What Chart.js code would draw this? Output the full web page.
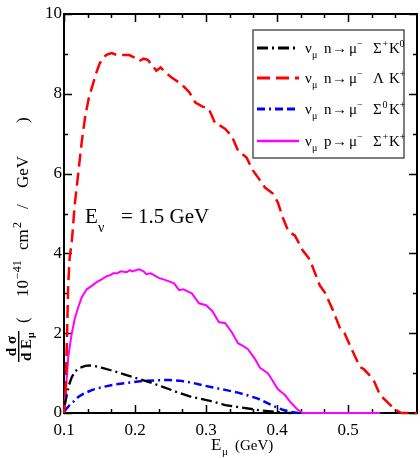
<!DOCTYPE html>
<html>
<head>
<meta charset="utf-8">
<script src="https://cdn.jsdelivr.net/npm/chart.js@4.4.1/dist/chart.umd.min.js"></script>
<style>
  html, body { margin: 0; padding: 0; background: #fff; }
  canvas { display: block; }
</style>
</head>
<body>
<canvas id="c" width="420" height="458"></canvas>
<script>
// Axis ticks
const xTicks = [0.1, 0.2, 0.3, 0.4, 0.5];
const yTicks = [0, 2, 4, 6, 8, 10];

// nu_mu n -> mu- Sigma+ K0
const sigmaPlusK0E = [0.101, 0.104, 0.107, 0.111, 0.116, 0.122, 0.13, 0.136, 0.145, 0.154, 0.17, 0.188, 0.206, 0.224, 0.24, 0.258, 0.28, 0.304, 0.327, 0.345, 0.364, 0.38, 0.397, 0.41, 0.42];
const sigmaPlusK0 = [0.2, 0.45, 0.7, 0.9, 1.05, 1.13, 1.18, 1.19, 1.17, 1.13, 1.05, 0.95, 0.85, 0.75, 0.65, 0.53, 0.4, 0.31, 0.2, 0.15, 0.1, 0.06, 0.03, 0.01, 0.0];

// nu_mu n -> mu- Lambda K+
const lambdaKE = [0.1, 0.102, 0.104, 0.106, 0.108, 0.111, 0.115, 0.12, 0.125, 0.13, 0.135, 0.14, 0.145, 0.15, 0.155, 0.16, 0.167, 0.175, 0.185, 0.192, 0.2, 0.206, 0.212, 0.218, 0.224, 0.23, 0.236, 0.242, 0.252, 0.265, 0.276, 0.285, 0.295, 0.304, 0.313, 0.32, 0.327, 0.336, 0.345, 0.357, 0.366, 0.376, 0.383, 0.394, 0.401, 0.408, 0.416, 0.425, 0.436, 0.446, 0.46, 0.468, 0.478, 0.488, 0.495, 0.505, 0.517, 0.522, 0.53, 0.537, 0.545, 0.555, 0.565, 0.575, 0.597];
const lambdaK = [0.0, 0.4, 1.75, 3.25, 3.9, 4.3, 5.2, 6.0, 6.8, 7.45, 7.9, 8.2, 8.5, 8.75, 8.9, 8.98, 9.02, 8.97, 8.97, 8.97, 8.9, 8.82, 8.88, 8.85, 8.72, 8.58, 8.66, 8.55, 8.4, 8.25, 8.05, 7.78, 7.68, 7.62, 7.25, 7.2, 7.12, 6.95, 6.58, 6.4, 6.08, 5.83, 5.65, 5.5, 5.28, 4.9, 4.55, 4.45, 4.08, 3.85, 3.2, 3.0, 2.6, 2.15, 2.0, 1.6, 1.15, 1.1, 0.95, 0.78, 0.45, 0.28, 0.1, 0.0, 0.0];

// nu_mu n -> mu- Sigma0 K+
const sigmaZeroKE = [0.101, 0.104, 0.108, 0.113, 0.12, 0.127, 0.14, 0.154, 0.17, 0.188, 0.21, 0.23, 0.248, 0.266, 0.28, 0.294, 0.31, 0.327, 0.345, 0.359, 0.373, 0.385, 0.397, 0.408, 0.419, 0.43];
const sigmaZeroK = [0.05, 0.12, 0.2, 0.28, 0.4, 0.48, 0.58, 0.65, 0.71, 0.75, 0.8, 0.82, 0.83, 0.8, 0.76, 0.7, 0.64, 0.58, 0.51, 0.44, 0.36, 0.26, 0.16, 0.08, 0.03, 0.0];

// nu_mu p -> mu- Sigma+ K+
const protonKE = [0.101, 0.102, 0.104, 0.106, 0.108, 0.111, 0.115, 0.12, 0.125, 0.132, 0.14, 0.146, 0.153, 0.16, 0.165, 0.169, 0.175, 0.18, 0.188, 0.193, 0.196, 0.2, 0.206, 0.212, 0.216, 0.222, 0.228, 0.234, 0.24, 0.248, 0.255, 0.262, 0.268, 0.274, 0.28, 0.29, 0.3, 0.309, 0.318, 0.327, 0.336, 0.345, 0.352, 0.359, 0.369, 0.376, 0.387, 0.394, 0.401, 0.411, 0.42, 0.428, 0.436, 0.545];
const protonK = [0.3, 0.45, 0.9, 1.4, 1.65, 2.0, 2.35, 2.65, 2.9, 3.1, 3.2, 3.28, 3.35, 3.43, 3.45, 3.5, 3.5, 3.55, 3.53, 3.58, 3.55, 3.57, 3.6, 3.55, 3.48, 3.5, 3.44, 3.38, 3.35, 3.3, 3.25, 3.08, 3.1, 3.05, 3.0, 2.75, 2.7, 2.55, 2.28, 2.25, 2.03, 1.75, 1.68, 1.6, 1.35, 1.13, 1.0, 0.8, 0.6, 0.45, 0.25, 0.1, 0.0, 0.0];

const seriesLabels = [
  'ν_μ n → μ⁻ Σ⁺ K⁰',
  'ν_μ n → μ⁻ Λ K⁺',
  'ν_μ n → μ⁻ Σ⁰ K⁺',
  'ν_μ p → μ⁻ Σ⁺ K⁺'
];

const SERIF = '"Liberation Serif", "Times New Roman", serif';

function pts(xs, ys) { return xs.map((x, i) => ({ x: x, y: ys[i] })); }

const styles = [
  { color: '#000000', dash: [11, 4, 2, 4], width: 2.3 },
  { color: '#ff0000', dash: [13, 6], width: 2.5 },
  { color: '#0000ff', dash: [8, 4, 2, 4, 8, 4], width: 2.5 },
  { color: '#ff00ff', dash: [], width: 2 }
];
const seriesData = [
  pts(sigmaPlusK0E, sigmaPlusK0),
  pts(lambdaKE, lambdaK),
  pts(sigmaZeroKE, sigmaZeroK),
  pts(protonKE, protonK)
];

// Text pieces: [text, x, kind, shift?] where kind is n (normal), sub or sup
function drawPieces(ctx, pieces, baseY, size, weight) {
  const w = weight || 'normal';
  for (const [t, x, kind, shift] of pieces) {
    let fs = size, dy = 0;
    if (kind === 'sub') { fs = Math.round(size * 0.68); dy = size * 0.3; }
    if (kind === 'sup') { fs = Math.round(size * 0.68); dy = -size * 0.42; }
    if (shift !== undefined) dy = shift;
    ctx.font = w + ' ' + fs + 'px ' + SERIF;
    ctx.fillText(t, x, baseY + dy);
  }
}

const frameTicks = {
  id: 'frameTicks',
  beforeDatasetsDraw(chart) {
    const { ctx, chartArea: a, scales: { x, y } } = chart;
    ctx.save();
    ctx.strokeStyle = '#000';
    ctx.lineWidth = 2;
    ctx.strokeRect(a.left, a.top, a.right - a.left, a.bottom - a.top);
    ctx.lineWidth = 1.5;
    ctx.beginPath();
    // x: major every 0.1, two minor ticks between
    for (let i = 0; ; i++) {
      const v = 0.1 + i * 0.1 / 3;
      if (v > x.max + 1e-9) break;
      const px = Math.round(x.getPixelForValue(v)) + 0.5;
      const len = (i % 3 === 0) ? 8 : 4;
      ctx.moveTo(px, a.bottom); ctx.lineTo(px, a.bottom - len);
      ctx.moveTo(px, a.top); ctx.lineTo(px, a.top + len);
    }
    // y: major every 2, one minor between
    for (let v = 0; v <= 10; v++) {
      const py = Math.round(y.getPixelForValue(v)) + 0.5;
      const len = (v % 2 === 0) ? 8 : 4;
      ctx.moveTo(a.left, py); ctx.lineTo(a.left + len, py);
      ctx.moveTo(a.right, py); ctx.lineTo(a.right - len, py);
    }
    ctx.stroke();
    ctx.restore();
  },
  afterDraw(chart) {
    const ctx = chart.ctx;
    ctx.save();
    ctx.fillStyle = '#000';
    ctx.textAlign = 'left';
    ctx.textBaseline = 'alphabetic';

    // Legend box
    const L = { left: 253, top: 30, right: 404, bottom: 158 };
    ctx.fillStyle = '#fff';
    ctx.fillRect(L.left, L.top, L.right - L.left, L.bottom - L.top);
    ctx.strokeStyle = '#555';
    ctx.lineWidth = 1.5;
    ctx.strokeRect(L.left, L.top, L.right - L.left, L.bottom - L.top);
    const rowsY = [48, 78, 109, 141];
    const target = ['n', 'n', 'n', 'p'];
    const baryon = [['Σ', '+'], ['Λ', ''], ['Σ', '0'], ['Σ', '+']];
    const kaon = ['0', '+', '+', '+'];
    for (let i = 0; i < 4; i++) {
      const st = styles[i];
      const ry = rowsY[i];
      ctx.strokeStyle = st.color;
      ctx.lineWidth = st.width + 0.5;
      ctx.setLineDash(st.dash);
      ctx.beginPath();
      ctx.moveTo(257, ry); ctx.lineTo(299, ry);
      ctx.stroke();
      ctx.setLineDash([]);
      ctx.fillStyle = '#000';
      const pieces = [
        ['ν', 305, 'n'], ['μ', 312, 'sub'],
        [target[i], 324, 'n'], ['→', 332, 'n'],
        ['μ', 349, 'n'], ['−', 357, 'sup'],
        [baryon[i][0], 373, 'n']
      ];
      if (baryon[i][1]) pieces.push([baryon[i][1], 382.5, 'sup']);
      pieces.push(['K', 389, 'n'], [kaon[i], 399.5, 'sup']);
      drawPieces(ctx, pieces, ry + 5, 15);
    }

    // In-plot annotation
    ctx.fillStyle = '#000';
    drawPieces(ctx, [['E', 85, 'n'], ['ν', 98, 'sub', 9], ['= 1.5 GeV', 121, 'n']], 223, 21);

    // x-axis title
    ctx.font = '17px ' + SERIF;
    ctx.fillText('E', 211, 450);
    ctx.font = '11px ' + SERIF;
    ctx.fillText('μ', 222, 455);
    ctx.font = '15px ' + SERIF;
    ctx.fillText('(GeV)', 235, 450);

    // y-axis title, rotated; local (u, v) maps to screen (v, -u)
    ctx.rotate(-Math.PI / 2);
    ctx.font = 'bold 15px ' + SERIF;
    ctx.textAlign = 'center';
    ctx.fillText('d σ', -346, 16);
    ctx.fillRect(-362, 18, 31, 1.4);
    ctx.textAlign = 'left';
    ctx.fillText('d E', -361, 31);
    ctx.font = 'bold 10px ' + SERIF;
    ctx.fillText('μ', -338, 34);
    drawPieces(ctx, [
      ['(', -323, 'n'], ['10', -297, 'n'], ['−41', -279, 'sup'],
      ['cm', -250, 'n'], ['2', -228, 'sup'], ['/', -209, 'n'],
      ['GeV', -188, 'n'], [')', -123, 'n']
    ], 28, 17);
    ctx.restore();
  }
};

new Chart(document.getElementById('c'), {
  type: 'line',
  data: {
    datasets: seriesData.map((d, i) => ({
      label: seriesLabels[i],
      data: d,
      borderColor: styles[i].color,
      borderWidth: styles[i].width,
      borderDash: styles[i].dash,
      pointRadius: 0,
      tension: 0,
      fill: false,
      clip: 3
    }))
  },
  options: {
    responsive: false,
    devicePixelRatio: 1,
    animation: false,
    events: [],
    layout: { padding: { top: 14, right: 3, left: 0, bottom: 0 } },
    plugins: { legend: { display: false }, tooltip: { enabled: false } },
    scales: {
      x: {
        type: 'linear',
        min: 0.1,
        max: 0.597,
        grid: { display: false, drawTicks: false },
        border: { display: false },
        afterBuildTicks: s => { s.ticks = xTicks.map(v => ({ value: v })); },
        afterFit: s => { s.height = 45; },
        ticks: {
          autoSkip: false, maxRotation: 0, padding: 7, color: '#000',
          font: { family: SERIF, size: 17 },
          callback: v => v.toFixed(1)
        }
      },
      y: {
        min: 0,
        max: 10,
        grid: { display: false, drawTicks: false },
        border: { display: false },
        afterBuildTicks: s => { s.ticks = yTicks.map(v => ({ value: v })); },
        afterFit: s => { s.width = 64; },
        ticks: {
          padding: 2, color: '#000',
          font: { family: SERIF, size: 17 },
          callback: v => String(v)
        }
      }
    }
  },
  plugins: [frameTicks]
});
</script>
</body>
</html>
